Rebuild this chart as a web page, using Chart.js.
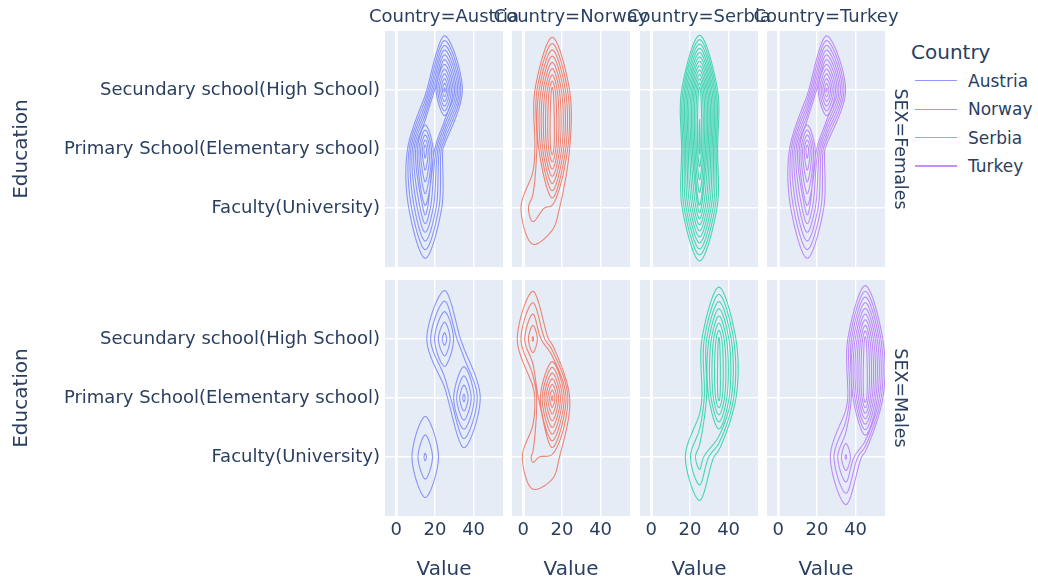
<!DOCTYPE html>
<html>
<head>
<meta charset="utf-8">
<script src="https://cdn.jsdelivr.net/npm/chart.js@4.4.1/dist/chart.umd.min.js"></script>
<style>
  html, body { margin: 0; padding: 0; background: #fff; }
  #fig { position: relative; width: 1038px; height: 583px; overflow: hidden;
         font-family: 'DejaVu Sans', sans-serif; color: #2a3f5f; }
  #fig canvas { position: absolute; }
  .lbl { position: absolute; white-space: nowrap; line-height: 1; }
  .swatch { position: absolute; height: 1.5px; }
</style>
</head>
<body>
<div id="fig"></div>
<script>
// ---- data -------------------------------------------------------------
const countries = ['Austria', 'Norway', 'Serbia', 'Turkey'];
const sexes = ['Females', 'Males'];
const educationLevels = ['Faculty(University)', 'Primary School(Elementary school)', 'Secundary school(High School)'];
const valueTicks = [0, 20, 40];
const valueBins = [5, 15, 25, 35, 45];   // centres of the Value bins (width 10)

// Density per education level (rows: Faculty, Primary, Secundary) and Value bin
const austriaFemales = [[0, 3.4, 0, 0, 0], [0, 5.9, 0, 0, 0], [0, 0, 6.2, 0, 0]];
const norwayFemales  = [[1.3, 0.8, 0, 0, 0], [0, 4.9, 0, 0, 0], [0, 4.7, 0, 0, 0]];
const serbiaFemales  = [[0, 0, 4.9, 0, 0], [0, 0, 7.2, 0, 0], [0, 0, 6.8, 0, 0]];
const turkeyFemales  = [[0, 3.4, 0, 0, 0], [0, 5.9, 0, 0, 0], [0, 0, 6.2, 0.4, 0]];
const austriaMales   = [[0, 1.6, 0, 0, 0], [0, 0, 0, 3.2, 0], [0, 0.3, 2.8, 0, 0]];
const norwayMales    = [[1.1, 0.8, 0, 0, 0], [0, 5.2, 0, 0, 0], [2.6, 0, 0, 0, 0]];
const serbiaMales    = [[0, 0, 1.9, 0, 0], [0, 0, 0, 4.2, 0], [0, 0, 0, 4.1, 0]];
const turkeyMales    = [[0, 0, 0, 2.6, 0], [0, 0, 0, 0, 5.4], [0, 0, 0, 0, 5.2]];

const facetTable = [
  [austriaFemales, norwayFemales, serbiaFemales, turkeyFemales],
  [austriaMales, norwayMales, serbiaMales, turkeyMales]
];

// ---- look -------------------------------------------------------------
const countryColors = ['99,110,250', '239,85,59', '0,204,150', '171,99,250'];
const textColor = '#2a3f5f';
const fontFamily = "'DejaVu Sans', sans-serif";

const M = 20;                       // free margin around every panel canvas
const panelW = 118, panelH = 236;
const panelLeft = [385, 512, 640, 767];
const panelTop = [31, 280];
const xTickAreaH = 34;
const X_MIN = -5.8, X_MAX = 55.2, Y_MIN = -1, Y_MAX = 3;

// ---- contour construction ---------------------------------------------
// grid padded with an empty bin / empty row on every side so all contours close
const binWidth = valueBins[1] - valueBins[0];
const gx = [valueBins[0] - binWidth, ...valueBins, valueBins[valueBins.length - 1] + binWidth];
const gy = [-1, ...educationLevels.map((_, i) => i), educationLevels.length];

function paddedGrid(rows) {
  const empty = gx.map(() => 0);
  return [empty, ...rows.map(r => [0, ...r, 0]), empty];
}

// automatic contour spacing: about 15 levels, rounded up to 2/5/10 x 10^n
function contourSizing(zmax) {
  const rough = zmax / 15;
  const base = Math.pow(10, Math.floor(Math.log10(rough)));
  const size = base * [2, 5, 10].find(v => v > rough / base + 1e-12);
  const start = size;
  let end = Math.floor(zmax / size + 1e-9) * size;
  if (Math.abs(end - zmax) < 1e-9) end -= size;
  return { start, end, size };
}

function traceLevel(f, level) {
  const nx = gx.length, ny = gy.length;
  const pts = new Map(), adj = new Map();
  const hE = (i, j) => {
    const id = j * nx + i;
    if (!pts.has(id)) { const t = (level - f[j][i]) / (f[j][i + 1] - f[j][i]); pts.set(id, [gx[i] + t * (gx[i + 1] - gx[i]), gy[j]]); }
    return id;
  };
  const vE = (i, j) => {
    const id = nx * ny + j * nx + i;
    if (!pts.has(id)) { const t = (level - f[j][i]) / (f[j + 1][i] - f[j][i]); pts.set(id, [gx[i], gy[j] + t * (gy[j + 1] - gy[j])]); }
    return id;
  };
  const link = (p, q) => {
    if (!adj.has(p)) adj.set(p, []);
    if (!adj.has(q)) adj.set(q, []);
    adj.get(p).push(q); adj.get(q).push(p);
  };
  for (let j = 0; j < ny - 1; j++) {
    for (let i = 0; i < nx - 1; i++) {
      const a = f[j][i] > level, b = f[j][i + 1] > level, c = f[j + 1][i + 1] > level, d = f[j + 1][i] > level;
      if (a === b && b === c && c === d) continue;
      const edge = k => k === 'B' ? hE(i, j) : k === 'R' ? vE(i + 1, j) : k === 'T' ? hE(i, j + 1) : vE(i, j);
      const e = [];
      if (a !== b) e.push('B');
      if (b !== c) e.push('R');
      if (d !== c) e.push('T');
      if (a !== d) e.push('L');
      if (e.length === 2) { link(edge(e[0]), edge(e[1])); continue; }
      const mid = (f[j][i] + f[j][i + 1] + f[j + 1][i + 1] + f[j + 1][i]) / 4 > level;
      if (a) {
        if (mid) { link(edge('B'), edge('R')); link(edge('L'), edge('T')); }
        else { link(edge('L'), edge('B')); link(edge('R'), edge('T')); }
      } else {
        if (mid) { link(edge('L'), edge('B')); link(edge('T'), edge('R')); }
        else { link(edge('B'), edge('R')); link(edge('L'), edge('T')); }
      }
    }
  }
  const loops = [];
  const seen = new Set();
  for (const start of adj.keys()) {
    if (seen.has(start)) continue;
    const loop = [];
    let prev = -1, cur = start;
    while (cur !== undefined && !seen.has(cur)) {
      seen.add(cur);
      loop.push(pts.get(cur));
      let next;
      for (const n of adj.get(cur)) if (n !== prev && !seen.has(n)) { next = n; break; }
      prev = cur; cur = next;
    }
    loops.push(loop);
  }
  return loops;
}

// closed Catmull-Rom style smoothing, done in screen proportions
const sx = panelW / (X_MAX - X_MIN), sy = panelH / (Y_MAX - Y_MIN);
const SAMPLES = 16;
function tangent(p0, p1, p2) {
  const d1x = p0[0] - p1[0], d1y = p0[1] - p1[1], d2x = p2[0] - p1[0], d2y = p2[1] - p1[1];
  const d1a = Math.pow(d1x * d1x + d1y * d1y, 0.25), d2a = Math.pow(d2x * d2x + d2y * d2y, 0.25);
  const numx = d2a * d2a * d1x - d1a * d1a * d2x, numy = d2a * d2a * d1y - d1a * d1a * d2y;
  const den1 = 3 * d2a * (d1a + d2a), den2 = 3 * d1a * (d1a + d2a);
  return [[p1[0] + (den1 && numx / den1), p1[1] + (den1 && numy / den1)],
          [p1[0] - (den2 && numx / den2), p1[1] - (den2 && numy / den2)]];
}
function smoothLoop(loop) {
  const p = loop.map(([x, y]) => [x * sx, y * sy]);
  const n = p.length;
  const out = [];
  if (n < 3) { p.forEach(q => out.push(q)); out.push(p[0]); }
  else {
    const tans = p.map((q, i) => tangent(p[(i - 1 + n) % n], q, p[(i + 1) % n]));
    for (let i = 0; i < n; i++) {
      const a = p[i], b = p[(i + 1) % n], c1 = tans[i][1], c2 = tans[(i + 1) % n][0];
      for (let k = 0; k < SAMPLES; k++) {
        const t = k / SAMPLES, u = 1 - t;
        out.push([u * u * u * a[0] + 3 * u * u * t * c1[0] + 3 * u * t * t * c2[0] + t * t * t * b[0],
                  u * u * u * a[1] + 3 * u * u * t * c1[1] + 3 * u * t * t * c2[1] + t * t * t * b[1]]);
      }
    }
    out.push(p[0]);
  }
  return out.map(([x, y]) => ({ x: x / sx, y: y / sy }));
}

function contourData(rows) {
  const f = paddedGrid(rows);
  let zmax = 0;
  rows.forEach(r => r.forEach(v => { if (v > zmax) zmax = v; }));
  const { start, end, size } = contourSizing(zmax);
  const data = [];
  for (let L = start; L <= end + 1e-9; L += size) {
    traceLevel(f, L).forEach(loop => {
      smoothLoop(loop).forEach(pt => data.push(pt));
      data.push({ x: NaN, y: NaN });
    });
  }
  return data;
}

// ---- charts -----------------------------------------------------------
const fig = document.getElementById('fig');

const panelBackground = {
  id: 'panelBackground',
  beforeDraw(chart) {
    const { ctx, chartArea: a } = chart;
    ctx.save();
    ctx.fillStyle = '#E5ECF6';
    ctx.fillRect(a.left, a.top, a.right - a.left, a.bottom - a.top);
    ctx.restore();
  }
};

function makePanel(row, col) {
  const canvas = document.createElement('canvas');
  const left = col === 0 ? 0 : panelLeft[col] - M;
  const width = col === 0 ? panelLeft[0] + panelW + M : panelW + 2 * M;
  const height = panelH + 2 * M + (row === 1 ? xTickAreaH : 0);
  canvas.width = width; canvas.height = height;
  canvas.style.left = left + 'px';
  canvas.style.top = (panelTop[row] - M) + 'px';
  canvas.style.width = width + 'px';
  canvas.style.height = height + 'px';
  fig.appendChild(canvas);

  const tickFont = { family: fontFamily, size: 18 };
  new Chart(canvas, {
    type: 'scatter',
    data: {
      datasets: [{
        label: countries[col],
        data: contourData(facetTable[row][col]),
        showLine: true,
        spanGaps: false,
        borderColor: `rgba(${countryColors[col]},0.7)`,
        borderWidth: 1.1,
        pointRadius: 0,
        pointHoverRadius: 0,
        tension: 0.0001,          // keeps the full path renderer for closed loops
        capBezierPoints: false,
        fill: false
      }]
    },
    options: {
      responsive: false,
      animation: false,
      events: [],
      layout: { padding: { left: col === 0 ? 0 : M, right: M, top: M, bottom: M } },
      plugins: { legend: { display: false }, tooltip: { enabled: false } },
      scales: {
        x: {
          type: 'linear', min: X_MIN, max: X_MAX,
          afterBuildTicks: s => { s.ticks = valueTicks.map(v => ({ value: v })); },
          afterFit: s => { s.height = row === 1 ? xTickAreaH : 0; },
          grid: { color: '#ffffff', lineWidth: c => (c.tick && c.tick.value === 0 ? 2.8 : 1.4), drawTicks: false },
          border: { display: false },
          ticks: { display: row === 1, font: tickFont, color: textColor, padding: 4, maxRotation: 0, autoSkip: false }
        },
        y: {
          type: 'linear', min: Y_MIN, max: Y_MAX,
          afterBuildTicks: s => { s.ticks = educationLevels.map((_, i) => ({ value: i })); },
          afterFit: s => { s.width = col === 0 ? panelLeft[0] : 0; },
          grid: { color: '#ffffff', lineWidth: 1.4, drawTicks: false },
          border: { display: false },
          ticks: { display: col === 0, font: tickFont, color: textColor, padding: 5, autoSkip: false,
                   callback: v => educationLevels[v] }
        }
      }
    },
    plugins: [panelBackground]
  });
}

for (let r = 0; r < sexes.length; r++)
  for (let c = 0; c < countries.length; c++) makePanel(r, c);

// ---- titles, facet labels, legend -------------------------------------
function addText(txt, x, y, size, rot, alignLeft) {
  const d = document.createElement('div');
  d.className = 'lbl';
  d.textContent = txt;
  d.style.left = x + 'px';
  d.style.top = y + 'px';
  d.style.fontSize = size + 'px';
  d.style.transform = (alignLeft ? 'translate(0,-50%)' : 'translate(-50%,-50%)') + (rot ? ` rotate(${rot}deg)` : '');
  fig.appendChild(d);
}

countries.forEach((c, i) => {
  addText('Country=' + c, panelLeft[i] + panelW / 2, 16, 18);
  addText('Value', panelLeft[i] + panelW / 2, 568, 20);
});
sexes.forEach((s, r) => {
  addText('SEX=' + s, 899.5, panelTop[r] + panelH / 2, 17.5, 90);
  addText('Education', 20, panelTop[r] + panelH / 2, 20, -90);
});

addText('Country', 911, 51.5, 20, 0, true);
const legendY = [80.7, 109.3, 137.5, 166];
countries.forEach((c, i) => {
  const sw = document.createElement('div');
  sw.className = 'swatch';
  sw.style.left = '915px';
  sw.style.width = '42px';
  sw.style.top = (legendY[i] - 0.75) + 'px';
  sw.style.background = `rgba(${countryColors[i]},0.7)`;
  fig.appendChild(sw);
  addText(c, 968, legendY[i], 17, 0, true);
});
</script>
</body>
</html>
